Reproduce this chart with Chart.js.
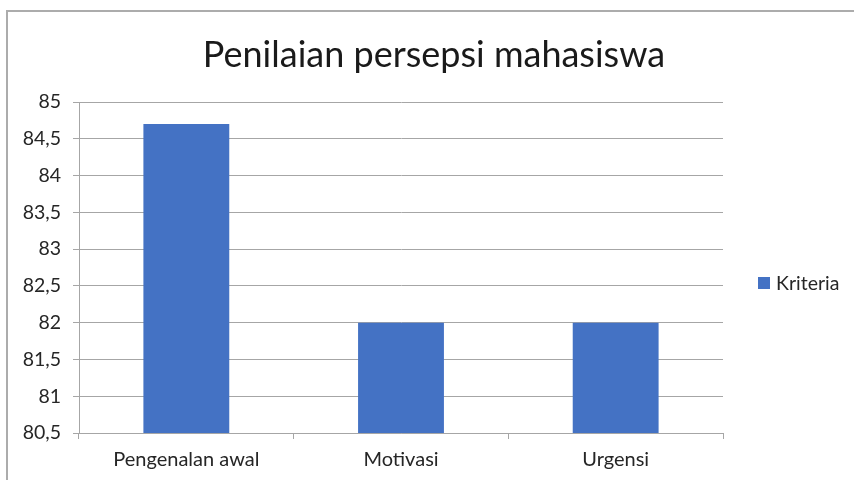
<!DOCTYPE html>
<html>
<head>
<meta charset="utf-8">
<script src="https://cdn.jsdelivr.net/npm/chart.js@4.4.1/dist/chart.umd.min.js"></script>
<style>
  html, body { margin: 0; padding: 0; background: #fff; }
  .wrap { position: relative; width: 854px; height: 480px; overflow: hidden; }
  .frame { position: absolute; left: 6px; top: 10px; width: 900px; height: 520px;
           border-left: 2px solid #acacac; border-top: 2px solid #acacac; }
  canvas { position: absolute; left: 0; top: 0; }
</style>
</head>
<body>
<div class="wrap">
  <div class="frame"></div>
  <canvas id="chart" width="854" height="480"></canvas>
</div>
<script>
const titleText = 'Penilaian persepsi mahasiswa';
const categories = ['Pengenalan awal', 'Motivasi', 'Urgensi'];
const seriesName = 'Kriteria';
const kriteria = [84.7, 82, 82];
const yMin = 80.5;
const yMax = 85;
const yStep = 0.5;

const fontFamily = 'Lato, "Noto Sans", sans-serif';
const barColor = '#4472c4';
const gridColor = '#a6a6a6';

// title + legend drawn by hand so the plot area can sit where the original has it
const extras = {
  id: 'extras',
  afterDraw(chart) {
    const ctx = chart.ctx;
    ctx.save();
    ctx.fillStyle = '#1a1a1a';
    ctx.font = '36px ' + fontFamily;
    ctx.textAlign = 'center';
    ctx.textBaseline = 'middle';
    ctx.fillText(titleText, 434, 55);

    const ds = chart.data.datasets[0];
    ctx.fillStyle = ds.backgroundColor;
    ctx.fillRect(758, 277, 12, 12);
    ctx.fillStyle = '#262626';
    ctx.font = '19.5px ' + fontFamily;
    ctx.textAlign = 'left';
    ctx.fillText(ds.label, 776, 284);
    ctx.restore();
  }
};

new Chart(document.getElementById('chart'), {
  type: 'bar',
  data: {
    labels: categories,
    datasets: [{
      label: seriesName,
      data: kriteria,
      backgroundColor: barColor,
      categoryPercentage: 1,
      barPercentage: 0.4
    }]
  },
  options: {
    responsive: false,
    animation: false,
    layout: { padding: { top: 102, right: 131, left: 0, bottom: 0 } },
    plugins: {
      legend: { display: false },
      title: { display: false },
      tooltip: { enabled: false }
    },
    scales: {
      y: {
        min: yMin,
        max: yMax,
        afterFit(scale) { scale.width = 79; },
        ticks: {
          stepSize: yStep,
          padding: 12,
          color: '#262626',
          font: { family: fontFamily, size: 19.5 },
          callback: (v) => String(v).replace('.', ',')
        },
        grid: { color: gridColor, tickLength: 6, lineWidth: 1 },
        border: { color: gridColor }
      },
      x: {
        afterFit(scale) { scale.height = 47; },
        ticks: {
          padding: 9,
          color: '#262626',
          font: { family: fontFamily, size: 20 }
        },
        grid: { drawOnChartArea: false, offset: true, color: gridColor, tickLength: 6 },
        border: { color: gridColor }
      }
    }
  },
  plugins: [extras]
});
</script>
</body>
</html>
